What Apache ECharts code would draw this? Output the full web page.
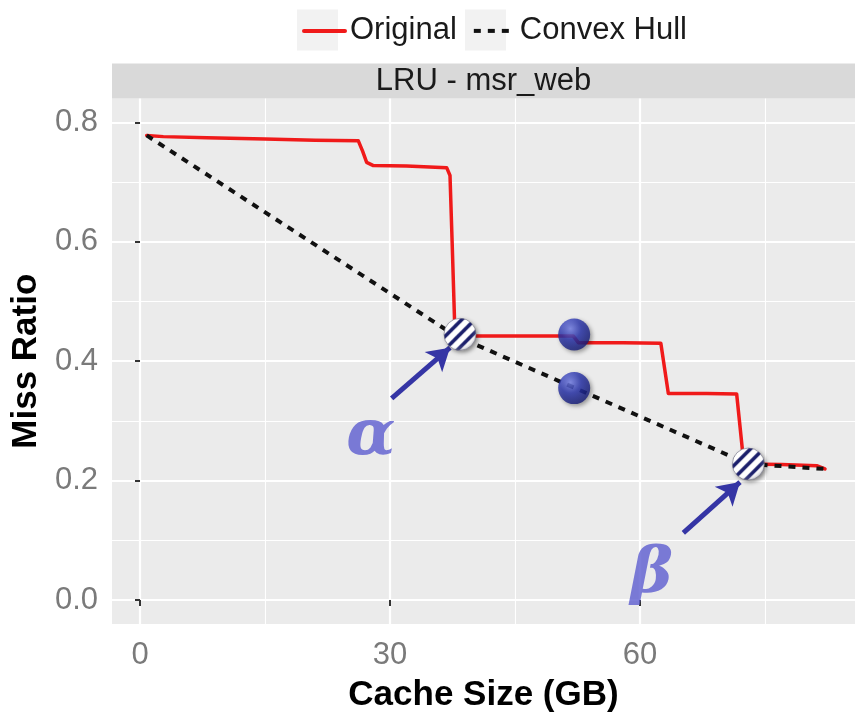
<!DOCTYPE html>
<html>
<head>
<meta charset="utf-8">
<title>LRU - msr_web</title>
<script src="https://cdn.jsdelivr.net/npm/echarts@6/dist/echarts.min.js"></script>
<style>
  html, body { margin: 0; padding: 0; background: #ffffff; }
  #chart { width: 855px; height: 718px; }
</style>
</head>
<body>
<div id="chart"></div>
<script>
// Miss-ratio curve of an LRU cache on the msr_web trace, with its convex hull.
const panelTitle = 'LRU - msr_web';
const seriesNames = ['Original', 'Convex Hull'];

// Axis ticks
const xTicks = [0, 30, 60];
const xMinorTicks = [15, 45, 75];
const yTicks = [0, 0.2, 0.4, 0.6, 0.8];
const yMinorTicks = [0.1, 0.3, 0.5, 0.7];
const yTickLabels = ['0.0', '0.2', '0.4', '0.6', '0.8'];

// Original miss-ratio curve (cache size in GB, miss ratio)
const origSize = [0.8, 2.8, 8, 15, 21, 26.2, 26.7, 27.2, 28.0, 32, 36.8, 37.2, 37.5, 37.8, 40, 46, 52.0, 52.6, 58, 62.5, 63.4, 68, 71.6, 72.3, 72.6, 77, 81.2, 82.2];
const origMiss = [0.778, 0.776, 0.774, 0.772, 0.770, 0.769, 0.752, 0.733, 0.7275, 0.727, 0.724, 0.711, 0.58, 0.443, 0.442, 0.442, 0.442, 0.431, 0.431, 0.430, 0.346, 0.346, 0.345, 0.25, 0.228, 0.227, 0.225, 0.2196];

// Convex hull vertices
const hullSize = [0.8, 37.8, 73.0, 82.2];
const hullMiss = [0.778, 0.443, 0.228, 0.2196];

// Hull points highlighted as alpha and beta
const pivotSize = [38.4, 73.0];
const pivotMiss = [0.445, 0.2278];

// Points between alpha and beta: on the curve and on the hull
const midSize = [52.1, 52.1];
const midMiss = [0.4448, 0.355];

// Arrow annotations: tail -> head
const arrowFromSize = [30.2, 65.2];
const arrowFromMiss = [0.3377, 0.1125];
const arrowToSize = [37.2, 72.0];
const arrowToMiss = [0.4227, 0.1977];

// Greek letter labels
const letterText = ['α', 'β'];
const letterSize = [27.7, 61.4];
const letterMiss = [0.272, 0.041];

const pair = (xs, ys) => xs.map((x, i) => [x, ys[i]]);

const FONT = '"Liberation Sans", Arial, Helvetica, sans-serif';
const panel = { left: 112, top: 98.4, right: 0, bottom: 85.4 };
const tickLabelStyle = { color: '#7a7a7a', fontSize: 31, fontFamily: FONT };
const markerSize = 32;

// Diagonal stripe tile used to fill the alpha / beta markers
function stripeTile() {
  const s = 13;
  const c = document.createElement('canvas');
  c.width = s; c.height = s;
  const g = c.getContext('2d');
  g.fillStyle = '#ffffff';
  g.fillRect(0, 0, s, s);
  g.strokeStyle = '#1b1f6b';
  g.lineWidth = 3.6;
  g.lineCap = 'square';
  for (let k = -1; k <= 1; k++) {
    g.beginPath();
    g.moveTo(k * s - 2, s + 2);
    g.lineTo(k * s + s + 2, -2);
    g.stroke();
  }
  return c;
}
const stripePattern = { image: stripeTile(), repeat: 'repeat' };

const chart = echarts.init(document.getElementById('chart'), null, { renderer: 'canvas' });

const option = {
  backgroundColor: '#ffffff',
  animation: false,
  textStyle: { fontFamily: FONT },
  legend: {
    data: seriesNames,
    left: 297,
    top: 9.5,
    itemWidth: 41,
    itemHeight: 41,
    itemGap: 15,
    itemStyle: { opacity: 0 },
    lineStyle: { width: 4 },
    textStyle: { fontSize: 31, color: '#1a1a1a', fontFamily: FONT },
    selectedMode: false
  },
  graphic: [
    // legend key backgrounds
    { type: 'rect', z: -1, shape: { x: 297, y: 9.5, width: 41, height: 41 }, style: { fill: '#f2f2f2' } },
    { type: 'rect', z: -1, shape: { x: 465, y: 9.5, width: 41, height: 41 }, style: { fill: '#f2f2f2' } },
    // facet strip
    { type: 'rect', shape: { x: 112, y: 63.5, width: 743, height: 34.9 }, style: { fill: '#d9d9d9' } },
    {
      type: 'text', x: 483.5, y: 81,
      style: { text: panelTitle, fill: '#1a1a1a', fontSize: 31, fontFamily: FONT, align: 'center', verticalAlign: 'middle' }
    }
  ],
  grid: {
    left: panel.left, top: panel.top, right: panel.right, bottom: panel.bottom,
    show: true, backgroundColor: '#ebebeb', borderWidth: 0
  },
  xAxis: [
    {
      type: 'value', min: -3.36, max: 85.8,
      axisLine: { show: false },
      axisTick: { show: true, length: 6, customValues: xTicks, lineStyle: { color: '#333333', width: 2 } },
      axisLabel: Object.assign({ customValues: xTicks, margin: 16 }, tickLabelStyle),
      splitLine: { show: true, lineStyle: { color: '#ffffff', width: 2.2 } },
      name: 'Cache Size (GB)', nameLocation: 'middle', nameGap: 54,
      nameTextStyle: { fontSize: 35, fontWeight: 'bold', color: '#000000', fontFamily: FONT }
    },
    {
      type: 'value', min: -3.36, max: 85.8, position: 'bottom',
      axisLine: { show: false },
      axisTick: { show: false, customValues: xMinorTicks },
      axisLabel: { show: false },
      splitLine: { show: true, lineStyle: { color: '#ffffff', width: 1.1 } }
    }
  ],
  yAxis: [
    {
      type: 'value', min: -0.04, max: 0.84,
      axisLine: { show: false },
      axisTick: { show: true, length: 5, customValues: yTicks, lineStyle: { color: '#333333', width: 2 } },
      axisLabel: Object.assign({
        customValues: yTicks, margin: 14,
        formatter: v => yTickLabels[yTicks.findIndex(t => Math.abs(t - v) < 1e-9)]
      }, tickLabelStyle),
      splitLine: { show: true, lineStyle: { color: '#ffffff', width: 2.2 } },
      name: 'Miss Ratio', nameLocation: 'middle', nameGap: 66,
      nameTextStyle: { fontSize: 35, fontWeight: 'bold', color: '#000000', fontFamily: FONT }
    },
    {
      type: 'value', min: -0.04, max: 0.84, position: 'left',
      axisLine: { show: false },
      axisTick: { show: false, customValues: yMinorTicks },
      axisLabel: { show: false },
      splitLine: { show: true, lineStyle: { color: '#ffffff', width: 1.1 } }
    }
  ],
  series: [
    {
      name: seriesNames[0], type: 'line', xAxisIndex: 0, yAxisIndex: 0,
      data: pair(origSize, origMiss), showSymbol: false, symbol: 'none',
      lineStyle: { color: '#f01a1a', width: 3.5, join: 'round', cap: 'round' },
      itemStyle: { color: '#f01a1a' }, z: 2
    },
    {
      name: seriesNames[1], type: 'line', xAxisIndex: 0, yAxisIndex: 0,
      data: pair(hullSize, hullMiss), showSymbol: false, symbol: 'none',
      lineStyle: { color: '#111111', width: 4, type: [7, 7] },
      itemStyle: { color: '#111111' }, z: 3
    },
    {
      name: 'arrows', type: 'line', xAxisIndex: 0, yAxisIndex: 0, data: [], silent: true, z: 4,
      markLine: {
        silent: true, animation: false,
        symbol: ['none', 'arrow'], symbolSize: [20, 22],
        label: { show: false },
        lineStyle: { color: '#3535a5', width: 5, type: 'solid' },
        data: arrowFromSize.map((x, i) => [
          { coord: [x, arrowFromMiss[i]] },
          { coord: [arrowToSize[i], arrowToMiss[i]] }
        ])
      }
    },
    {
      // striped markers, drawn in pixel space so the stripe tile keeps its size
      name: 'pivots', type: 'custom', xAxisIndex: 0, yAxisIndex: 0, z: 5,
      data: pair(pivotSize, pivotMiss),
      renderItem: (params, api) => {
        const p = api.coord([api.value(0), api.value(1)]);
        const r = markerSize / 2;
        return {
          type: 'group', x: p[0], y: p[1],
          children: [
            {
              type: 'circle', shape: { cx: 0, cy: 0, r: r },
              style: {
                fill: stripePattern,
                shadowBlur: 4, shadowColor: 'rgba(0,0,0,0.45)', shadowOffsetX: 2, shadowOffsetY: 2
              }
            },
            {
              type: 'circle', shape: { cx: 0, cy: 0, r: r },
              style: {
                fill: new echarts.graphic.RadialGradient(0.4, 0.35, 0.7, [
                  { offset: 0, color: 'rgba(255,255,255,0)' },
                  { offset: 0.7, color: 'rgba(255,255,255,0)' },
                  { offset: 1, color: 'rgba(60,60,80,0.45)' }
                ]),
                stroke: 'rgba(110,110,130,0.6)', lineWidth: 1
              }
            }
          ]
        };
      }
    },
    {
      name: 'midpoints', type: 'scatter', xAxisIndex: 0, yAxisIndex: 0, z: 5,
      data: pair(midSize, midMiss), symbol: 'circle', symbolSize: markerSize,
      itemStyle: {
        color: new echarts.graphic.RadialGradient(0.38, 0.32, 0.75, [
          { offset: 0, color: '#7884ef' },
          { offset: 0.45, color: '#2b36b0' },
          { offset: 1, color: '#121870' }
        ]),
        shadowBlur: 4, shadowColor: 'rgba(0,0,0,0.45)', shadowOffsetX: 2, shadowOffsetY: 2
      }
    },
    {
      name: 'letters', type: 'scatter', xAxisIndex: 0, yAxisIndex: 0, z: 6,
      data: letterSize.map((x, i) => ({ value: [x, letterMiss[i]], name: letterText[i] })),
      symbolSize: 1, itemStyle: { color: 'rgba(0,0,0,0)' },
      label: {
        show: true, position: 'inside', formatter: p => p.name,
        color: '#5c5cd0', fontSize: 64, fontStyle: 'italic', fontWeight: 'bold',
        fontFamily: '"DejaVu Serif", serif'
      }
    }
  ]
};

chart.setOption(option);
</script>
</body>
</html>
